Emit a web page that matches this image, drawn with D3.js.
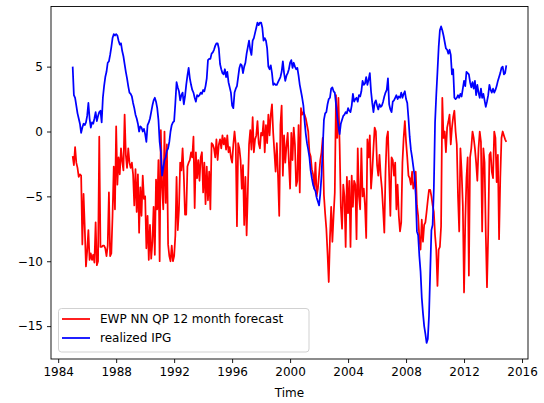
<!DOCTYPE html>
<html>
<head>
<meta charset="utf-8">
<script src="https://cdn.jsdelivr.net/npm/d3@7"></script>
<style>
  html, body { margin: 0; padding: 0; background: #fff; }
  svg { display: block; }
  text { font-family: "DejaVu Sans", sans-serif; }
</style>
</head>
<body>
<svg id="chart" width="544" height="403"></svg>
<script>
// Monthly series, January 1985 to December 2014 (12 values per row = one year)
const startYear = 1985;

const forecast = [
  -1.9, -2.6, -1.2, -2.4, -2.8, -3.5, -3.3, -3.4, -8.7, -4.8, -7.4, -10.4, // 1985
  -9.2, -7.6, -9.9, -9.4, -9.9, -9.5, -10.1, -7.0, -10.3, -10.0, -0.4, -8.9, // 1986
  -8.9, -8.8, -8.8, -9.0, -9.6, -8.8, -4.7, -9.6, -9.4, -6.5, -2.7, -6.0, // 1987
  0.4, -4.1, -2.0, -3.3, -1.3, -2.3, -3.0, 1.3, -1.8, -2.8, -1.3, -2.4, // 1988
  -2.8, -2.4, -3.3, -5.7, -2.9, -6.2, -3.3, -7.8, -4.3, -6.5, -3.4, -5.2, // 1989
  -5.0, -9.0, -6.5, -9.9, -7.2, -9.8, -8.5, -5.8, -9.5, -3.7, -6.0, -2.2, // 1990
  -10.0, 0.1, -4.3, -6.0, 0.0, -5.5, -1.0, -8.7, -9.6, -10.0, -8.8, -10.0, // 1991
  -9.6, -8.0, -3.5, -7.6, -6.0, -2.4, -3.0, -1.3, -3.4, -6.4, -6.4, -2.7, // 1992
  -2.4, -2.2, -1.6, -2.0, -0.4, -5.9, -1.6, -3.6, -2.2, -3.8, -2.0, -1.6, // 1993
  -4.7, -2.4, -5.6, -2.7, -5.3, -3.1, -6.0, -0.9, -1.0, -1.3, -2.0, -0.6, // 1994
  -2.2, -1.0, -0.6, -1.3, -0.3, -1.0, -0.5, -1.4, -0.3, -1.6, -1.2, -2.0, // 1995
  -2.4, -1.0, 0.0, -1.0, -7.3, -0.9, -1.3, -2.2, -4.4, -2.6, -7.2, -3.5, // 1996
  -8.0, -4.6, -1.0, 0.1, -1.4, 1.1, -1.6, -0.6, -0.3, 0.8, -0.9, -1.3, // 1997
  -0.1, -0.3, 0.8, -1.6, 0.5, -0.9, 1.3, -0.3, 1.3, 2.1, -0.1, -1.6, // 1998
  -3.1, -0.9, -3.4, -6.5, 0.5, 2.0, -3.4, -0.3, -2.4, -1.1, -0.1, -2.4, // 1999
  -4.4, -0.1, -2.2, 0.3, -1.0, -4.2, -3.8, 0.5, -4.7, 1.8, 1.3, 1.5, // 2000
  1.3, 1.0, 0.5, 0.0, -1.6, -1.9, -2.9, -3.3, -4.4, -2.4, -5.0, -4.4, // 2001
  -3.3, -2.2, -1.6, -0.5, -4.9, -6.3, -7.5, -9.4, -11.6, -8.2, -5.8, -8.5, // 2002
  -6.5, -4.7, 2.8, -0.5, 2.6, -1.0, -5.8, -7.5, -4.1, -5.0, -8.9, -3.5, // 2003
  -6.3, -3.8, -8.9, -3.4, -5.8, -3.8, -4.1, -8.3, -1.3, -5.0, -6.0, -1.3, // 2004
  -5.0, -4.4, -5.7, -8.2, -0.6, -2.0, -0.3, -4.4, -3.1, -1.3, 0.3, 0.0, // 2005
  -2.6, -3.4, -1.8, -3.4, -4.4, -6.0, -7.8, -3.1, -0.5, 0.0, -3.4, -6.5, // 2006
  -2.0, -2.2, -3.4, -2.4, -6.0, -4.1, -6.5, -7.7, -7.0, -2.4, -0.5, 0.8, // 2007
  -0.8, -2.0, -3.4, -3.6, -4.1, -3.1, -4.4, -4.1, -3.1, -5.7, -6.5, -8.2, // 2008
  -9.1, -6.8, -8.5, -7.2, -7.0, -6.2, -5.3, -4.5, -4.5, -5.0, -5.7, -6.2, // 2009
  -8.0, -9.1, -11.9, -9.1, -8.9, -7.3, 2.6, -0.5, 0.0, -1.6, 0.3, 0.75, // 2010
  1.3, -1.0, 0.3, 1.1, 1.6, 0.0, -1.0, -5.0, -7.7, -1.3, -3.1, -5.7, // 2011
  -12.4, -7.0, -3.6, -2.0, -11.1, -2.0, -1.3, 0.0, -0.5, -1.3, -2.4, -3.8, // 2012
  -1.3, 0.0, -0.8, -7.7, -1.3, -2.4, -7.9, -12.0, -7.9, -1.8, -1.6, -3.1, // 2013
  -3.6, 0.0, -0.5, -3.9, -1.8, -8.3, -3.6, -0.5, 0.0, -0.3, -0.6, -0.8  // 2014
];

const realized = [
  5.0, 2.8, 2.6, 2.0, 1.4, 1.0, 0.6, -0.1, 0.3, 0.6, 0.5, 0.7, // 1985
  1.2, 2.2, 1.0, 0.3, 0.7, 0.6, 1.0, 1.5, 0.8, 1.2, 1.5, 1.6, // 1986
  0.7, 2.6, 3.5, 4.2, 4.6, 5.3, 5.4, 5.9, 6.5, 7.2, 7.5, 7.4, // 1987
  7.5, 7.4, 7.0, 6.7, 6.8, 6.2, 5.8, 5.2, 4.6, 4.1, 3.5, 3.0, // 1988
  2.9, 2.7, 2.2, 1.8, 1.3, 1.0, 0.6, 0.0, 0.4, 0.3, 0.0, 0.2, // 1989
  -0.2, -0.8, 0.5, 0.7, 1.0, 1.5, 2.0, 2.4, 2.6, 2.3, 1.8, 0.9, // 1990
  -0.8, -1.6, -3.4, -2.8, -2.2, -2.0, -1.5, -1.3, -0.8, 0.0, 0.5, 0.7, // 1991
  0.8, 2.2, 3.8, 3.4, 3.1, 2.4, 2.8, 3.0, 2.1, 2.7, 3.6, 4.3, // 1992
  4.9, 4.1, 3.6, 3.2, 3.0, 2.6, 2.3, 2.8, 2.7, 2.8, 3.0, 2.9, // 1993
  3.2, 3.1, 3.5, 4.1, 5.5, 5.6, 5.6, 6.0, 6.1, 6.3, 6.6, 6.8, // 1994
  6.8, 6.4, 5.2, 4.8, 4.5, 4.4, 4.8, 4.2, 4.6, 3.8, 3.4, 3.0, // 1995
  2.0, 1.8, 3.0, 3.3, 3.5, 4.2, 4.9, 5.2, 5.1, 4.5, 5.0, 5.3, // 1996
  6.0, 6.5, 7.0, 6.3, 5.9, 7.0, 7.2, 7.6, 8.0, 8.4, 8.2, 8.4, // 1997
  8.4, 8.0, 7.0, 7.2, 7.0, 6.4, 5.0, 4.8, 5.1, 4.5, 3.6, 3.7, // 1998
  3.6, 3.6, 3.8, 4.0, 4.2, 4.6, 5.4, 4.5, 3.9, 4.3, 4.5, 4.8, // 1999
  5.3, 5.5, 4.9, 5.3, 5.0, 4.8, 4.9, 4.3, 3.6, 3.1, 2.6, 2.0, // 2000
  0.8, -0.2, -0.9, -1.4, -2.0, -3.0, -3.6, -4.1, -4.4, -4.6, -5.1, -5.4, // 2001
  -5.7, -4.8, -3.4, -1.3, 0.9, 1.4, 1.5, 2.1, 2.5, 2.6, 3.3, 3.4, // 2002
  3.1, 3.0, 2.1, 1.2, 0.4, -0.2, 0.6, 0.9, 1.2, 1.3, 1.5, 1.4, // 2003
  1.8, 1.6, 1.5, 2.0, 2.9, 2.3, 2.5, 2.6, 2.3, 2.8, 2.7, 3.1, // 2004
  3.9, 3.6, 3.7, 4.2, 3.6, 4.0, 4.5, 3.1, 2.2, 1.5, 2.2, 2.4, // 2005
  2.0, 1.7, 2.1, 1.9, 2.0, 2.3, 2.7, 3.0, 3.2, 4.1, 2.1, 1.7, // 2006
  1.5, 2.3, 2.4, 2.6, 2.8, 2.5, 2.7, 2.6, 3.0, 2.6, 2.9, 3.1, // 2007
  2.5, 2.2, 1.0, -0.4, -1.4, -2.0, -2.7, -3.4, -4.9, -7.7, -8.0, -9.6, // 2008
  -10.8, -12.8, -14.0, -15.0, -15.6, -16.3, -16.0, -14.2, -10.8, -7.6, -7.2, -4.4, // 2009
  0.7, 2.8, 4.6, 6.5, 7.8, 8.1, 7.8, 7.4, 6.9, 6.4, 6.3, 6.0, // 2010
  6.3, 5.9, 4.4, 4.8, 2.6, 2.5, 2.6, 2.8, 2.6, 2.9, 2.7, 3.3, // 2011
  3.9, 3.5, 4.6, 4.5, 4.4, 3.8, 3.4, 3.8, 3.3, 3.9, 2.8, 3.6, // 2012
  3.0, 2.6, 3.3, 2.6, 2.9, 2.4, 1.9, 2.3, 2.8, 3.6, 3.2, 3.0, // 2013
  3.3, 3.0, 3.2, 3.5, 3.9, 4.2, 4.5, 4.9, 5.0, 4.4, 4.5, 5.1  // 2014
];

const xTicks = [1984, 1988, 1992, 1996, 2000, 2004, 2008, 2012, 2016];
const yTicks = [-15, -10, -5, 0, 5];
const seriesNames = ["EWP NN QP 12 month forecast", "realized IPG"];
const seriesColors = ["#ff0000", "#0000ff"];
const xLabel = "Time";

// ---------- drawing ----------
const svg = d3.select("#chart");
const L = 51, R = 528, T = 6.5, B = 359;

const times = forecast.map((_, i) => startYear + i / 12);
const series = [forecast, realized];

// matplotlib-style 5% margins
const xExt = d3.extent(times);
const xPad = (xExt[1] - xExt[0]) * 0.05;
const allY = forecast.concat(realized);
const yExt = d3.extent(allY);
const yPad = (yExt[1] - yExt[0]) * 0.05;

const x = d3.scaleLinear().domain([xExt[0] - xPad, xExt[1] + xPad]).range([L, R]);
const y = d3.scaleLinear().domain([yExt[0] - yPad, yExt[1] + yPad]).range([B, T]);

const fmt = v => String(v).replace("-", "\u2212");

// clip
svg.append("defs").append("clipPath").attr("id", "clip")
  .append("rect").attr("x", L).attr("y", T).attr("width", R - L).attr("height", B - T);

// lines
const line = d3.line().x((d, i) => x(times[i])).y(d => y(d));
series.forEach((s, k) => {
  svg.append("path")
    .datum(s)
    .attr("clip-path", "url(#clip)")
    .attr("fill", "none")
    .attr("stroke", seriesColors[k])
    .attr("stroke-width", 1.75)
    .attr("stroke-linejoin", "round")
    .attr("stroke-linecap", "butt")
    .attr("d", line);
});

// axes
const xAxis = d3.axisBottom(x).tickValues(xTicks).tickFormat(d => String(d)).tickSize(4).tickPadding(4);
const yAxis = d3.axisLeft(y).tickValues(yTicks).tickFormat(fmt).tickSize(4).tickPadding(4);

const gx = svg.append("g").attr("transform", `translate(0,${B})`).call(xAxis);
const gy = svg.append("g").attr("transform", `translate(${L},0)`).call(yAxis);
[gx, gy].forEach(g => {
  g.select(".domain").remove();
  g.selectAll(".tick line").attr("stroke", "#000").attr("stroke-width", 0.9);
  g.selectAll(".tick text").attr("fill", "#000").attr("font-size", 12).attr("font-family", "DejaVu Sans, sans-serif");
});

// frame
svg.append("rect")
  .attr("x", L).attr("y", T).attr("width", R - L).attr("height", B - T)
  .attr("fill", "none").attr("stroke", "#000").attr("stroke-width", 0.9);

// x label
svg.append("text")
  .attr("x", (L + R) / 2).attr("y", 397)
  .attr("text-anchor", "middle")
  .attr("font-size", 12).attr("fill", "#000")
  .text(xLabel);

// legend
const lg = svg.append("g");
lg.append("rect")
  .attr("x", 58.5).attr("y", 308.5).attr("width", 250.5).attr("height", 43.5)
  .attr("rx", 3).attr("ry", 3)
  .attr("fill", "#fff").attr("fill-opacity", 0.8)
  .attr("stroke", "#cccccc").attr("stroke-width", 0.9);
seriesNames.forEach((name, k) => {
  const yy = 319 + k * 19;
  lg.append("line")
    .attr("x1", 62).attr("x2", 90).attr("y1", yy).attr("y2", yy)
    .attr("stroke", seriesColors[k]).attr("stroke-width", 1.75);
  lg.append("text")
    .attr("x", 100).attr("y", yy).attr("dy", "0.35em")
    .attr("font-size", 12).attr("fill", "#000")
    .text(name);
});
</script>
</body>
</html>
